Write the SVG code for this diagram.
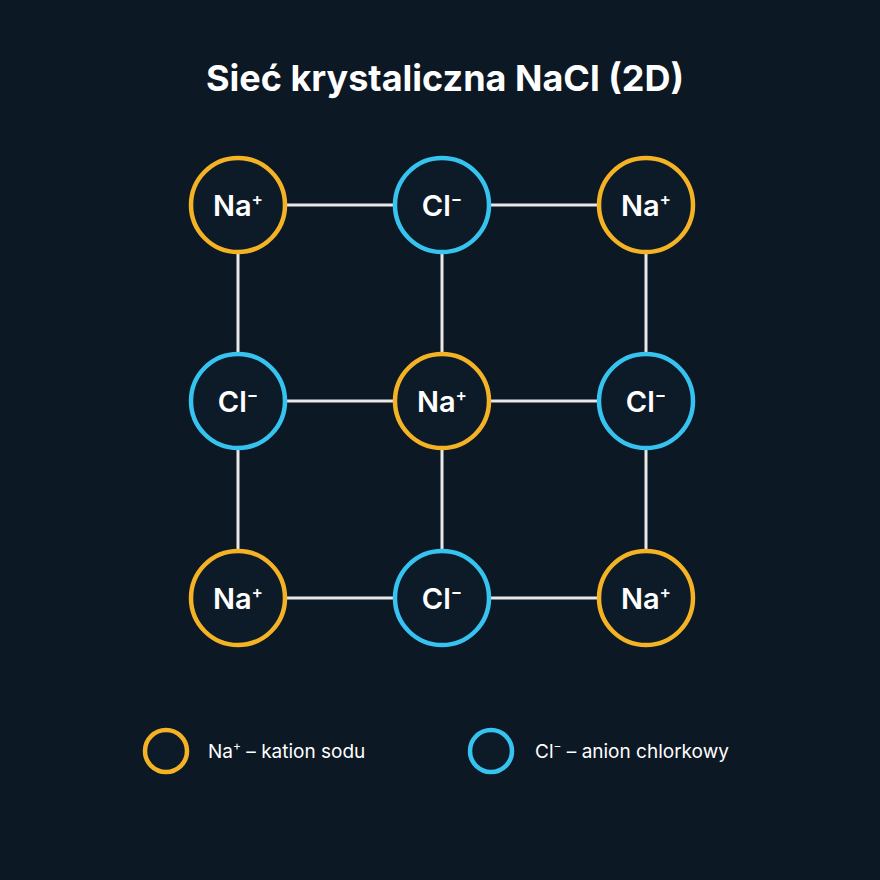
<svg xmlns="http://www.w3.org/2000/svg" width="880" height="880" viewBox="0 0 880 880">
<style>
.na{fill:#0d1a27;stroke:#f4b225;stroke-width:4.5}
.cl{fill:#0d1a27;stroke:#36c3ef;stroke-width:4.5}
.lbl{font-family:Inter,"Liberation Sans",sans-serif;font-weight:600;font-size:29px;fill:#fff;text-anchor:middle}
.sup{font-size:17px}
.leg{font-family:Inter,"Liberation Sans",sans-serif;font-size:19px;fill:#fff}
.ln{stroke:#e8e8e8;stroke-width:3}
</style>
<rect width="880" height="880" fill="#0c1824"/>
<text x="445" y="91" text-anchor="middle" font-family="Inter,'Liberation Sans',sans-serif" font-weight="700" font-size="36" fill="#fff">Sieć krystaliczna NaCl (2D)</text>
<g id="connectors">
<line class="ln" x1="238" y1="205" x2="646" y2="205"/>
<line class="ln" x1="238" y1="401" x2="646" y2="401"/>
<line class="ln" x1="238" y1="598" x2="646" y2="598"/>
<line class="ln" x1="238" y1="205" x2="238" y2="598"/>
<line class="ln" x1="442" y1="205" x2="442" y2="598"/>
<line class="ln" x1="646" y1="205" x2="646" y2="598"/>
</g>
<g id="n1"><circle class="na" cx="238" cy="205" r="47"/><text class="lbl" x="238" y="216">Na<tspan class="sup" dy="-11">+</tspan></text></g>
<g id="n2"><circle class="cl" cx="442" cy="205" r="47"/><text class="lbl" x="442" y="216">Cl<tspan class="sup" dy="-11">−</tspan></text></g>
<g id="n3"><circle class="na" cx="646" cy="205" r="47"/><text class="lbl" x="646" y="216">Na<tspan class="sup" dy="-11">+</tspan></text></g>
<g id="n4"><circle class="cl" cx="238" cy="401" r="47"/><text class="lbl" x="238" y="412">Cl<tspan class="sup" dy="-11">−</tspan></text></g>
<g id="n5"><circle class="na" cx="442" cy="401" r="47"/><text class="lbl" x="442" y="412">Na<tspan class="sup" dy="-11">+</tspan></text></g>
<g id="n6"><circle class="cl" cx="646" cy="401" r="47"/><text class="lbl" x="646" y="412">Cl<tspan class="sup" dy="-11">−</tspan></text></g>
<g id="n7"><circle class="na" cx="238" cy="598" r="47"/><text class="lbl" x="238" y="609">Na<tspan class="sup" dy="-11">+</tspan></text></g>
<g id="n8"><circle class="cl" cx="442" cy="598" r="47"/><text class="lbl" x="442" y="609">Cl<tspan class="sup" dy="-11">−</tspan></text></g>
<g id="n9"><circle class="na" cx="646" cy="598" r="47"/><text class="lbl" x="646" y="609">Na<tspan class="sup" dy="-11">+</tspan></text></g>
<g id="legend">
<circle class="na" cx="166" cy="751" r="21" stroke-width="4"/>
<text class="leg" x="208" y="758">Na<tspan font-size="12" dy="-8">+</tspan><tspan dy="8"> – kation sodu</tspan></text>
<circle class="cl" cx="491" cy="751" r="21" stroke-width="4"/>
<text class="leg" x="535" y="758">Cl<tspan font-size="12" dy="-8">−</tspan><tspan dy="8">  – anion chlorkowy</tspan></text>
</g>
</svg>
